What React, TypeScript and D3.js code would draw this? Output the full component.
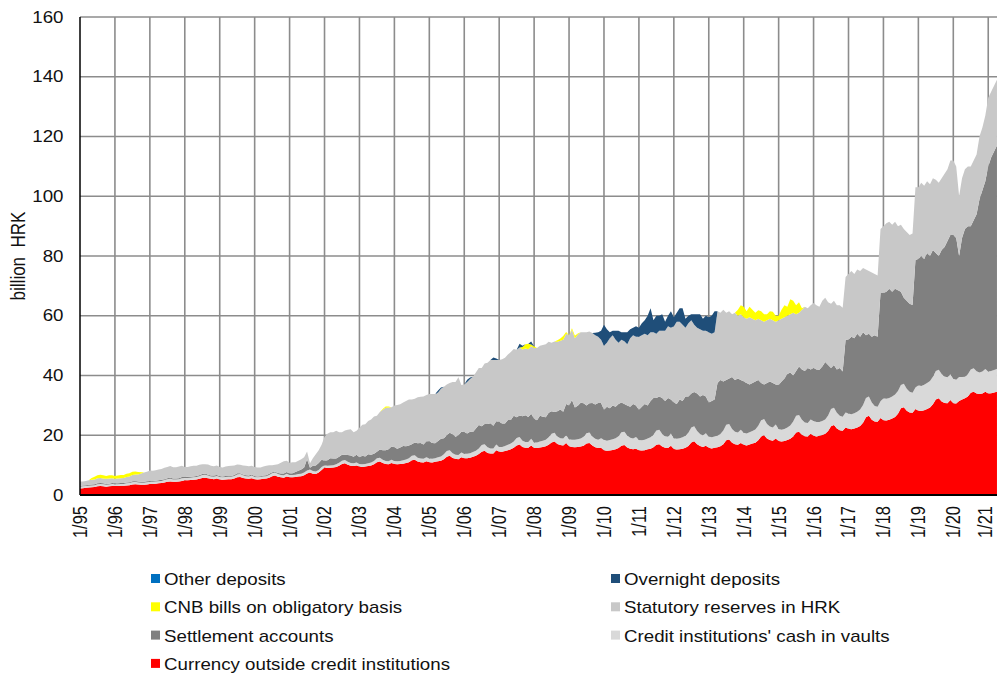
import * as d3 from "d3";

// billion HRK, monthly values starting 1/1995 (one row per year)
const START_YEAR = 1995;

const currency = [
  2.2, 2.3, 2.4, 2.5, 2.6, 2.7, 2.9, 3.0, 2.9, 2.8, 2.9, 3.0,
  3.0, 3.0, 3.1, 3.1, 3.2, 3.3, 3.5, 3.6, 3.5, 3.4, 3.4, 3.5,
  3.7, 3.7, 3.8, 3.9, 4.0, 4.2, 4.4, 4.5, 4.4, 4.4, 4.5, 4.7,
  4.9, 4.9, 5.0, 5.1, 5.2, 5.4, 5.7, 5.8, 5.6, 5.4, 5.3, 5.5,
  5.2, 5.1, 5.2, 5.3, 5.3, 5.5, 5.9, 6.0, 5.7, 5.5, 5.4, 5.6,
  5.3, 5.2, 5.3, 5.4, 5.5, 5.8, 6.3, 6.5, 6.1, 5.9, 5.8, 6.2,
  5.9, 5.9, 6.0, 6.2, 6.3, 6.6, 7.2, 7.5, 7.1, 7.0, 7.5, 8.4,
  9.2, 9.0, 9.1, 9.2, 9.4, 9.8, 10.4, 10.6, 10.1, 9.8, 9.7, 9.9,
  9.5, 9.4, 9.5, 9.7, 9.9, 10.3, 11.0, 11.2, 10.7, 10.4, 10.3, 10.7,
  10.4, 10.3, 10.4, 10.5, 10.7, 11.0, 11.6, 11.8, 11.2, 11.0, 10.9, 11.3,
  11.0, 10.9, 11.1, 11.3, 11.5, 12.0, 12.8, 13.1, 12.4, 12.1, 12.0, 12.6,
  12.3, 12.3, 12.5, 12.8, 13.1, 13.7, 14.5, 14.8, 14.1, 13.9, 13.9, 15.0,
  14.5, 14.5, 14.7, 15.0, 15.3, 15.8, 16.6, 16.9, 16.1, 15.8, 15.8, 16.6,
  15.7, 15.7, 15.9, 16.1, 16.3, 16.8, 17.6, 17.9, 17.1, 16.7, 16.6, 17.4,
  16.3, 16.1, 16.0, 16.1, 16.2, 16.5, 17.2, 17.4, 16.6, 16.0, 15.7, 15.8,
  15.0, 14.8, 14.9, 15.1, 15.3, 15.7, 16.5, 16.7, 15.9, 15.5, 15.3, 15.5,
  15.0, 14.9, 15.0, 15.3, 15.5, 16.0, 16.8, 17.0, 16.2, 15.8, 15.7, 16.5,
  15.4, 15.2, 15.3, 15.5, 15.8, 16.4, 17.6, 18.0, 17.0, 16.4, 16.1, 16.5,
  15.8, 15.6, 15.8, 16.0, 16.3, 17.0, 18.3, 18.6, 17.5, 17.0, 16.8, 17.4,
  16.8, 16.6, 16.9, 17.2, 17.5, 18.3, 19.6, 20.0, 18.9, 18.4, 18.2, 18.9,
  18.1, 17.9, 18.1, 18.4, 18.8, 19.6, 20.9, 21.2, 20.2, 19.7, 19.6, 20.5,
  19.8, 19.6, 19.8, 20.1, 20.5, 21.4, 23.0, 23.4, 22.3, 21.7, 21.5, 22.6,
  22.2, 22.0, 22.3, 22.6, 23.1, 24.2, 26.0, 26.5, 25.2, 24.6, 24.5, 25.8,
  25.0, 24.9, 25.2, 25.6, 26.1, 27.2, 29.0, 29.4, 28.2, 27.6, 27.5, 28.8,
  28.2, 28.1, 28.4, 28.8, 29.3, 30.4, 32.0, 32.4, 31.3, 30.8, 30.7, 31.8,
  30.7, 30.6, 31.5, 32.0, 32.4, 33.0, 34.2, 34.6, 34.0, 33.8, 34.0, 34.6,
  34.0, 34.1, 34.3, 34.6,
];

const vaultCash = [
  0.6, 0.6, 0.6, 0.6, 0.6, 0.6, 0.7, 0.7, 0.7, 0.6, 0.6, 0.7,
  0.6, 0.6, 0.6, 0.6, 0.7, 0.7, 0.8, 0.8, 0.7, 0.7, 0.7, 0.8,
  0.7, 0.7, 0.7, 0.7, 0.7, 0.8, 0.9, 0.9, 0.8, 0.8, 0.8, 0.9,
  0.8, 0.8, 0.8, 0.8, 0.8, 0.9, 1.0, 1.0, 0.9, 0.8, 0.8, 0.9,
  0.8, 0.8, 0.8, 0.8, 0.8, 0.9, 1.0, 1.0, 0.9, 0.8, 0.8, 0.9,
  0.7, 0.7, 0.7, 0.8, 0.8, 0.9, 1.0, 1.0, 0.9, 0.8, 0.8, 0.9,
  0.8, 0.8, 0.8, 0.8, 0.8, 0.9, 1.0, 1.0, 0.9, 0.9, 0.9, 1.0,
  0.8, 0.8, 0.8, 0.8, 0.9, 1.0, 1.1, 1.1, 1.0, 0.9, 0.9, 1.0,
  0.9, 0.9, 0.9, 0.9, 1.0, 1.1, 1.3, 1.3, 1.1, 1.0, 1.0, 1.1,
  1.0, 1.0, 1.0, 1.1, 1.2, 1.3, 1.5, 1.5, 1.3, 1.2, 1.2, 1.3,
  1.2, 1.2, 1.2, 1.3, 1.4, 1.6, 1.9, 1.9, 1.6, 1.4, 1.4, 1.6,
  1.5, 1.5, 1.5, 1.6, 1.7, 1.9, 2.2, 2.2, 1.9, 1.7, 1.7, 1.9,
  1.6, 1.6, 1.7, 1.8, 1.9, 2.1, 2.5, 2.5, 2.1, 1.9, 1.9, 2.2,
  1.9, 1.9, 2.0, 2.1, 2.2, 2.5, 2.9, 2.9, 2.5, 2.3, 2.3, 2.6,
  2.4, 2.4, 2.5, 2.6, 2.7, 3.0, 3.5, 3.5, 3.0, 2.8, 2.8, 3.2,
  3.5, 3.4, 3.5, 3.6, 3.7, 4.0, 4.5, 4.5, 4.0, 3.7, 3.6, 3.9,
  3.4, 3.4, 3.5, 3.6, 3.8, 4.2, 4.8, 4.8, 4.2, 3.9, 3.8, 4.1,
  3.6, 3.6, 3.7, 3.8, 4.0, 4.4, 5.0, 5.0, 4.4, 4.0, 3.9, 4.2,
  3.8, 3.7, 3.8, 3.9, 4.1, 4.6, 5.2, 5.2, 4.6, 4.2, 4.1, 4.4,
  4.0, 4.0, 4.1, 4.2, 4.4, 4.9, 5.4, 5.4, 4.9, 4.5, 4.4, 4.7,
  4.0, 3.9, 4.0, 4.2, 4.5, 5.0, 5.6, 5.6, 5.0, 4.6, 4.5, 4.8,
  5.0, 4.8, 4.6, 4.7, 4.8, 5.2, 5.8, 5.8, 5.2, 4.8, 4.7, 5.0,
  5.1, 5.0, 5.1, 5.3, 5.5, 5.9, 6.5, 6.5, 5.8, 5.2, 5.0, 5.6,
  7.4, 7.3, 7.3, 7.4, 7.5, 7.6, 7.8, 7.8, 7.4, 7.0, 6.7, 7.2,
  8.5, 8.4, 8.5, 8.7, 8.9, 9.2, 9.5, 9.5, 9.2, 8.9, 8.7, 8.6,
  8.2, 8.0, 8.0, 7.5, 7.2, 7.4, 7.8, 7.8, 7.4, 7.2, 7.3, 7.6,
  7.3, 7.4, 7.5, 7.6,
];

const settlement = [
  0.3, 0.3, 0.3, 0.3, 0.3, 0.3, 0.3, 0.3, 0.3, 0.3, 0.3, 0.3,
  0.3, 0.3, 0.3, 0.3, 0.3, 0.3, 0.3, 0.3, 0.3, 0.3, 0.3, 0.3,
  0.3, 0.3, 0.3, 0.3, 0.4, 0.3, 0.3, 0.4, 0.3, 0.3, 0.3, 0.4,
  0.3, 0.4, 0.3, 0.3, 0.4, 0.3, 0.3, 0.4, 0.3, 0.3, 0.4, 0.3,
  0.3, 0.3, 0.4, 0.3, 0.3, 0.3, 0.4, 0.3, 0.3, 0.3, 0.3, 0.4,
  0.3, 0.3, 0.3, 0.3, 0.3, 0.4, 0.3, 0.3, 0.4, 0.5, 0.6, 0.6,
  0.5, 0.6, 0.9, 1.1, 1.4, 1.7, 3.8, 0.6, 1.8, 2.0, 2.3, 2.4,
  1.5, 1.8, 2.4, 2.2, 1.9, 2.0, 2.0, 1.8, 2.3, 2.5, 2.2, 2.6,
  2.2, 2.8, 2.5, 3.0, 2.6, 2.4, 2.2, 2.7, 3.2, 3.6, 4.0, 4.4,
  4.6, 4.2, 4.5, 4.8, 4.4, 4.3, 3.9, 4.3, 4.8, 5.2, 4.8, 5.4,
  5.8, 5.3, 5.0, 5.5, 5.9, 5.4, 5.3, 5.8, 6.3, 6.0, 6.6, 7.0,
  7.3, 6.8, 7.2, 6.7, 7.5, 7.8, 6.3, 6.8, 7.8, 8.4, 7.6, 7.8,
  8.4, 7.8, 7.5, 8.3, 7.9, 8.6, 6.9, 7.2, 8.2, 9.0, 8.4, 8.4,
  7.9, 7.4, 8.6, 8.0, 7.5, 8.2, 7.5, 7.0, 8.4, 9.6, 9.0, 10.5,
  11.3, 13.3, 10.8, 11.2, 12.0, 11.2, 9.3, 9.8, 11.2, 11.5, 12.3, 11.8,
  10.0, 11.3, 10.6, 11.3, 10.5, 10.8, 10.0, 9.3, 10.1, 10.3, 11.6, 10.6,
  10.1, 11.2, 12.0, 11.1, 12.2, 12.3, 10.9, 11.2, 12.1, 11.8, 13.0, 11.4,
  12.0, 11.7, 13.0, 12.2, 13.2, 12.2, 11.4, 11.5, 12.6, 12.6, 13.5, 12.3,
  11.4, 12.2, 12.4, 17.6, 18.1, 16.4, 15.0, 15.2, 17.4, 17.3, 18.1, 16.7,
  17.2, 16.9, 16.0, 16.1, 16.1, 15.3, 12.5, 11.6, 13.7, 15.1, 14.9, 13.4,
  14.7, 16.2, 16.9, 17.9, 17.7, 15.4, 15.0, 16.2, 16.8, 17.2, 18.4, 16.7,
  17.7, 17.6, 17.5, 18.2, 19.2, 16.9, 13.7, 14.3, 14.5, 16.0, 15.1, 24.4,
  24.7, 26.0, 25.1, 26.1, 24.4, 24.4, 21.0, 21.0, 22.0, 23.7, 23.5, 36.2,
  35.2, 35.8, 36.5, 35.0, 35.4, 33.7, 31.2, 28.8, 29.4, 29.4, 29.4, 42.7,
  42.3, 43.5, 42.1, 43.5, 41.8, 42.4, 39.5, 38.1, 41.5, 43.3, 45.6, 46.6,
  48.1, 47.4, 40.5, 46.5, 49.4, 49.6, 48.0, 49.6, 52.6, 58.0, 60.7, 62.8,
  68.7, 71.5, 73.2, 74.8,
];

const statutory = [
  1.4, 1.3, 1.4, 1.5, 1.6, 1.6, 1.7, 1.7, 1.6, 1.7, 1.7, 1.6,
  1.5, 1.6, 1.6, 1.7, 1.8, 1.9, 2.1, 2.2, 2.4, 2.8, 3.1, 3.2,
  3.5, 3.4, 3.5, 3.6, 3.6, 3.8, 3.8, 3.9, 3.8, 3.8, 3.9, 3.8,
  3.4, 3.3, 3.5, 3.6, 3.4, 3.5, 3.3, 3.1, 3.4, 3.3, 3.1, 3.2,
  3.1, 3.0, 3.1, 3.3, 3.4, 3.2, 2.9, 2.8, 3.0, 3.2, 3.1, 2.9,
  3.1, 3.0, 2.9, 3.0, 3.2, 2.9, 2.4, 2.3, 2.9, 3.6, 4.1, 3.8,
  3.6, 3.7, 3.3, 3.4, 3.5, 3.4, 2.6, 1.5, 2.5, 3.7, 4.3, 5.0,
  8.0, 8.9, 8.7, 8.8, 9.3, 8.2, 7.5, 8.1, 8.4, 8.8, 8.2, 8.0,
  9.9, 10.4, 10.8, 11.2, 11.8, 12.5, 12.0, 12.6, 13.5, 14.2, 14.0, 13.2,
  14.0, 14.6, 14.5, 14.6, 15.2, 15.4, 15.0, 14.6, 15.4, 15.5, 16.1, 15.5,
  15.8, 16.4, 16.5, 16.2, 16.8, 17.2, 17.0, 16.7, 17.5, 18.3, 19.4, 15.6,
  15.9, 17.2, 17.6, 18.5, 18.7, 19.1, 19.5, 20.2, 20.5, 21.2, 22.0, 20.5,
  20.7, 21.5, 22.0, 21.9, 22.8, 22.4, 22.6, 22.8, 22.3, 22.3, 22.7, 22.6,
  23.7, 24.2, 23.5, 24.0, 24.5, 23.8, 23.0, 23.6, 23.3, 23.0, 24.1, 23.5,
  23.5, 23.5, 23.2, 23.8, 23.6, 23.8, 24.5, 24.0, 23.4, 23.2, 22.2, 21.2,
  21.5, 21.5, 23.5, 23.5, 22.5, 20.5, 21.0, 21.0, 20.5, 23.0, 23.0, 23.0,
  24.5, 24.0, 23.5, 23.5, 23.0, 22.0, 21.5, 22.0, 22.5, 23.5, 24.0, 24.0,
  25.5, 27.5, 26.0, 25.5, 23.0, 24.5, 24.5, 22.5, 22.0, 22.5, 21.5, 22.0,
  23.5, 22.5, 22.5, 24.0, 22.5, 24.0, 22.5, 22.5, 21.0, 22.5, 21.0, 22.0,
  21.5, 21.5, 22.5, 21.5, 20.5, 20.5, 21.0, 21.0, 21.0, 21.0, 21.0, 21.0,
  21.7, 21.0, 20.5, 19.5, 19.5, 21.0, 19.0, 18.0, 20.0, 21.5, 20.0, 21.5,
  21.8, 21.5, 21.1, 22.0, 21.5, 21.0, 21.5, 21.5, 21.5, 21.0, 21.4, 21.0,
  22.0, 22.0, 21.5, 21.5, 22.0, 21.5, 22.0, 21.0, 21.5, 20.5, 20.5, 21.4,
  22.4, 23.0, 22.5, 22.5, 22.5, 21.5, 22.5, 23.0, 23.0, 23.0, 23.9, 24.3,
  24.0, 24.5, 24.5, 24.0, 24.0, 24.0, 24.5, 24.5, 24.0, 24.5, 24.0, 25.0,
  25.0, 24.0, 20.0, 20.0, 20.0, 20.0, 20.0, 20.0, 20.0, 21.0, 21.0, 22.0,
  23.0, 22.0, 22.0, 22.0,
];

// sparse series: runs of consecutive months [year, month, values]
const cnbBills = [
  [1995, 5, [0.6, 0.9, 1.0, 1.1, 1.1, 1.0, 1.1, 1.0]],
  [1996, 1, [1.0, 1.0, 1.1, 1.0, 1.1, 1.1, 1.1, 1.0, 0.8, 0.4]],
  [2003, 9, [0.3, 0.4, 0.3]],
  [2007, 9, [0.8, 1.5, 1.8, 0.6, 0.5]],
  [2008, 9, [0.5, 0.8, 1.2, 0.6]],
  [2009, 2, [0.5, 0.8, 0.4]],
  [2013, 11, [2.0, 3.0]],
  [2014, 1, [3.5, 2.5, 3.5, 3.0, 2.5, 2.8, 3.0, 2.5, 2.0, 2.5, 2.8, 2.0]],
  [2015, 1, [1.5, 3.0, 4.0, 3.0, 5.0, 4.0, 3.0, 3.5, 0.5]],
];

const overnight = [
  [2005, 4, [0.7, 0.4]],
  [2006, 2, [0.8, 0.5]],
  [2006, 11, [0.8, 0.5]],
  [2007, 8, [1.2, 0.5]],
  [2007, 12, [1.0]],
  [2009, 10, [0.8, 1.5, 3.0]],
  [2010, 1, [7, 4.5, 2, 1.5, 3, 4, 2.5, 3, 4, 3, 2.5, 3.5]],
  [2011, 1, [3, 4, 4.5, 6.5, 8, 4, 6, 5, 5.5, 3, 3.5, 5.5]],
  [2012, 1, [3, 3, 4.5, 5.5, 3, 2.5, 2, 3.5, 4.5, 5, 4, 5]],
  [2013, 1, [5, 6, 7]],
];

const otherDeposits = [];

const yTicks = [0, 20, 40, 60, 80, 100, 120, 140, 160];

const series = [
  { key: "currency", label: "Currency outside credit institutions", color: "#ff0000" },
  { key: "vault", label: "Credit institutions' cash in vaults", color: "#d9d9d9" },
  { key: "settlement", label: "Settlement accounts", color: "#808080" },
  { key: "statutory", label: "Statutory reserves in HRK", color: "#c8c8c8" },
  { key: "cnb", label: "CNB bills on obligatory basis", color: "#ffff00" },
  { key: "overnight", label: "Overnight deposits", color: "#1f4e79" },
  { key: "other", label: "Other deposits", color: "#0070c0" },
];

const legendLeft = ["other", "cnb", "settlement", "currency"];
const legendRight = ["overnight", "statutory", "vault"];

function fromRuns(runs, n) {
  const out = new Array(n).fill(0);
  runs.forEach(([yr, m, vals]) => {
    vals.forEach((v, k) => {
      out[(yr - START_YEAR) * 12 + (m - 1) + k] = v;
    });
  });
  return out;
}

// the original picture is stretched a little horizontally; text follows it
const SX = 1.17;

export default function App() {
  const width = 997;
  const height = 677;
  const left = 80;
  const n = currency.length;

  const cnb = fromRuns(cnbBills, n);
  const ov = fromRuns(overnight, n);
  const oth = fromRuns(otherDeposits, n);

  const rows = d3.range(n).map((i) => ({
    currency: currency[i],
    vault: vaultCash[i],
    settlement: settlement[i],
    statutory: statutory[i],
    cnb: cnb[i],
    overnight: ov[i],
    other: oth[i],
  }));

  const stacked = d3.stack().keys(series.map((s) => s.key))(rows);

  const x = d3.scaleLinear().domain([0, n - 1]).range([left, left + (n - 1) * 2.911]);
  const y = d3.scaleLinear().domain([0, 160]).range([495, 17]);

  const area = d3
    .area()
    .x((d, i) => x(i))
    .y0((d) => y(d[0]))
    .y1((d) => y(d[1]));

  const yearTicks = d3.range(0, n, 12);
  const font = "'Liberation Sans', Arial, sans-serif";
  const byKey = Object.fromEntries(series.map((s) => [s.key, s]));

  const legendRow = (key, i, lx) => (
    <g key={key} transform={`translate(${lx}, ${578.5 + i * 28.3})`}>
      <rect x={0} y={-4.5} width={9} height={9} fill={byKey[key].color} />
      <text
        transform={`translate(13, 1) scale(${SX}, 1)`}
        dominantBaseline="central"
        fontSize={16}
        fill="#111"
      >
        {byKey[key].label}
      </text>
    </g>
  );

  return (
    <svg
      width={width}
      height={height}
      style={{ position: "absolute", left: 0, top: 0, background: "#fff" }}
      fontFamily={font}
    >
      <rect width={width} height={height} fill="#fff" />
      {/* grid */}
      {yTicks.slice(1).map((t) => (
        <line key={t} x1={left} x2={width} y1={y(t)} y2={y(t)} stroke="#8c8c8c" strokeWidth={1.6} />
      ))}
      {yearTicks.slice(1).map((i) => (
        <line key={i} x1={x(i)} x2={x(i)} y1={y(160)} y2={y(0)} stroke="#8c8c8c" strokeWidth={1.6} />
      ))}

      {stacked.map((s) => (
        <path key={s.key} d={area(s)} fill={byKey[s.key].color} />
      ))}

      {/* axes */}
      <line x1={left} x2={left} y1={y(160)} y2={y(0)} stroke="#000" strokeWidth={1.5} />
      <line x1={left} x2={width} y1={y(0)} y2={y(0)} stroke="#000" strokeWidth={2} />

      {yTicks.map((t) => (
        <text
          key={t}
          transform={`translate(63.5, ${y(t)}) scale(${SX}, 1)`}
          textAnchor="end"
          dominantBaseline="central"
          fontSize={16}
          fill="#111"
        >
          {t}
        </text>
      ))}

      {yearTicks.map((i) => {
        const yr = START_YEAR + i / 12;
        const lab = `1/${String(yr % 100).padStart(2, "0")}`;
        const tx = Math.min(x(i) + 0.5, width - 11);
        return (
          <text
            key={i}
            transform={`translate(${tx}, 506) scale(${SX}, 1) rotate(-90)`}
            textAnchor="end"
            dominantBaseline="central"
            fontSize={16.5}
            fill="#111"
          >
            {lab}
          </text>
        );
      })}

      <text
        transform={`translate(18, 256) scale(${SX}, 1) rotate(-90)`}
        textAnchor="middle"
        dominantBaseline="central"
        fontSize={17}
        fill="#111"
        style={{ whiteSpace: "pre" }}
      >
        {"billion  HRK"}
      </text>

      {legendLeft.map((k, i) => legendRow(k, i, 151))}
      {legendRight.map((k, i) => legendRow(k, i, 611))}
    </svg>
  );
}
